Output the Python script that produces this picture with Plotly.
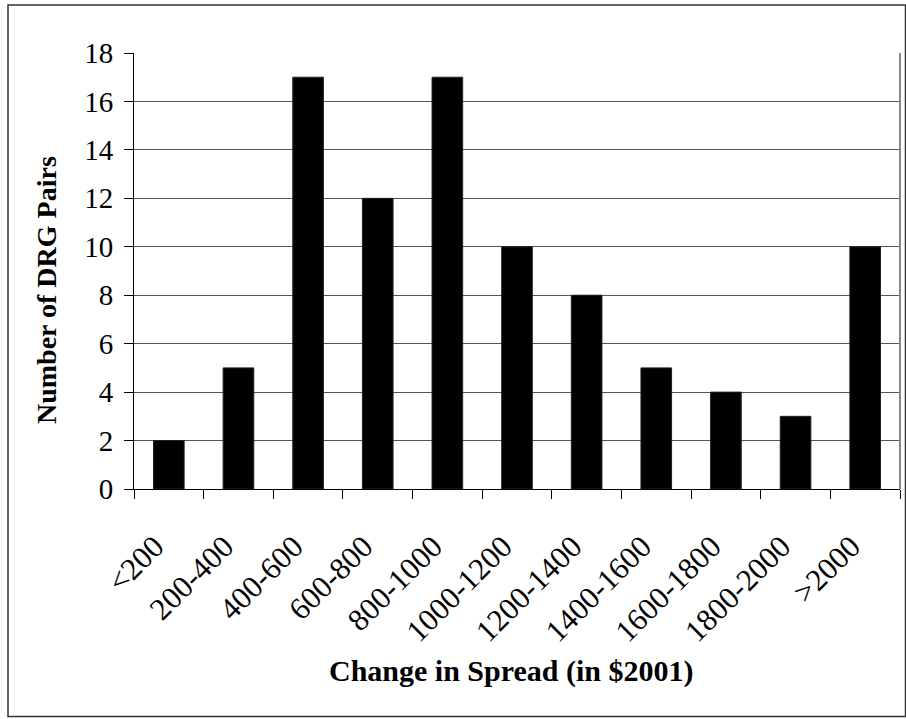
import plotly.graph_objects as go

categories = ["<200", "200-400", "400-600", "600-800", "800-1000", "1000-1200",
              "1200-1400", "1400-1600", "1600-1800", "1800-2000", ">2000"]
counts = [2, 5, 17, 12, 17, 10, 8, 5, 4, 3, 10]
y_ticks = [0, 2, 4, 6, 8, 10, 12, 14, 16, 18]

W, H = 906, 719
L, R, T, B = 134, 6, 53, 230
pw, ph = W - L - R, H - T - B

def px(x):
    return (x - L) / pw

def py(y):
    return (H - B - y) / ph

fig = go.Figure(go.Bar(
    x=categories, y=counts,
    marker=dict(color="black", line=dict(color="#222", width=1)),
))

font = "Liberation Serif, Times New Roman, serif"
fig.update_layout(
    width=W, height=H,
    margin=dict(l=L, r=R, t=T, b=B),
    paper_bgcolor="white", plot_bgcolor="white",
    bargap=0.56,
    showlegend=False,
    font=dict(family=font, color="black", size=30),
    xaxis=dict(
        type="category", tickson="boundaries", automargin=False,
        ticks="outside", ticklen=9, tickcolor="black", tickwidth=1,
        showline=True, linecolor="black", linewidth=1,
        showgrid=False, tickangle=-45,
        ticklabelstandoff=26, ticklabelshift=-14,
        tickfont=dict(family=font, size=31),
    ),
    yaxis=dict(
        range=[0, 18], tickvals=y_ticks, automargin=False,
        ticks="outside", ticklen=9, tickcolor="black", tickwidth=1,
        showline=True, linecolor="black", linewidth=1,
        showgrid=True, gridcolor="#555", gridwidth=1,
        zeroline=False, ticklabelstandoff=5,
        tickfont=dict(family=font, size=29),
    ),
    annotations=[
        dict(text="<b>Change in Spread (in $2001)</b>", xref="paper", yref="paper",
             x=px(511), y=py(671), xanchor="center", yanchor="middle",
             showarrow=False, font=dict(family=font, size=30)),
        dict(text="<b>Number of DRG Pairs</b>", xref="paper", yref="paper",
             x=px(46), y=py(290), xanchor="center", yanchor="middle",
             textangle=-90, showarrow=False, font=dict(family=font, size=28)),
    ],
    shapes=[
        dict(type="line", xref="paper", yref="paper", x0=1, x1=1, y0=0, y1=1,
             line=dict(color="#888", width=2)),
        dict(type="rect", xref="paper", yref="paper",
             x0=px(8), x1=px(905.5), y0=py(5), y1=py(716.5),
             line=dict(color="#333", width=1.5), fillcolor="rgba(0,0,0,0)",
             layer="below"),
    ],
)

fig.write_html("out.html", config={"displayModeBar": False},
               post_script="document.body.style.margin='0px';")
